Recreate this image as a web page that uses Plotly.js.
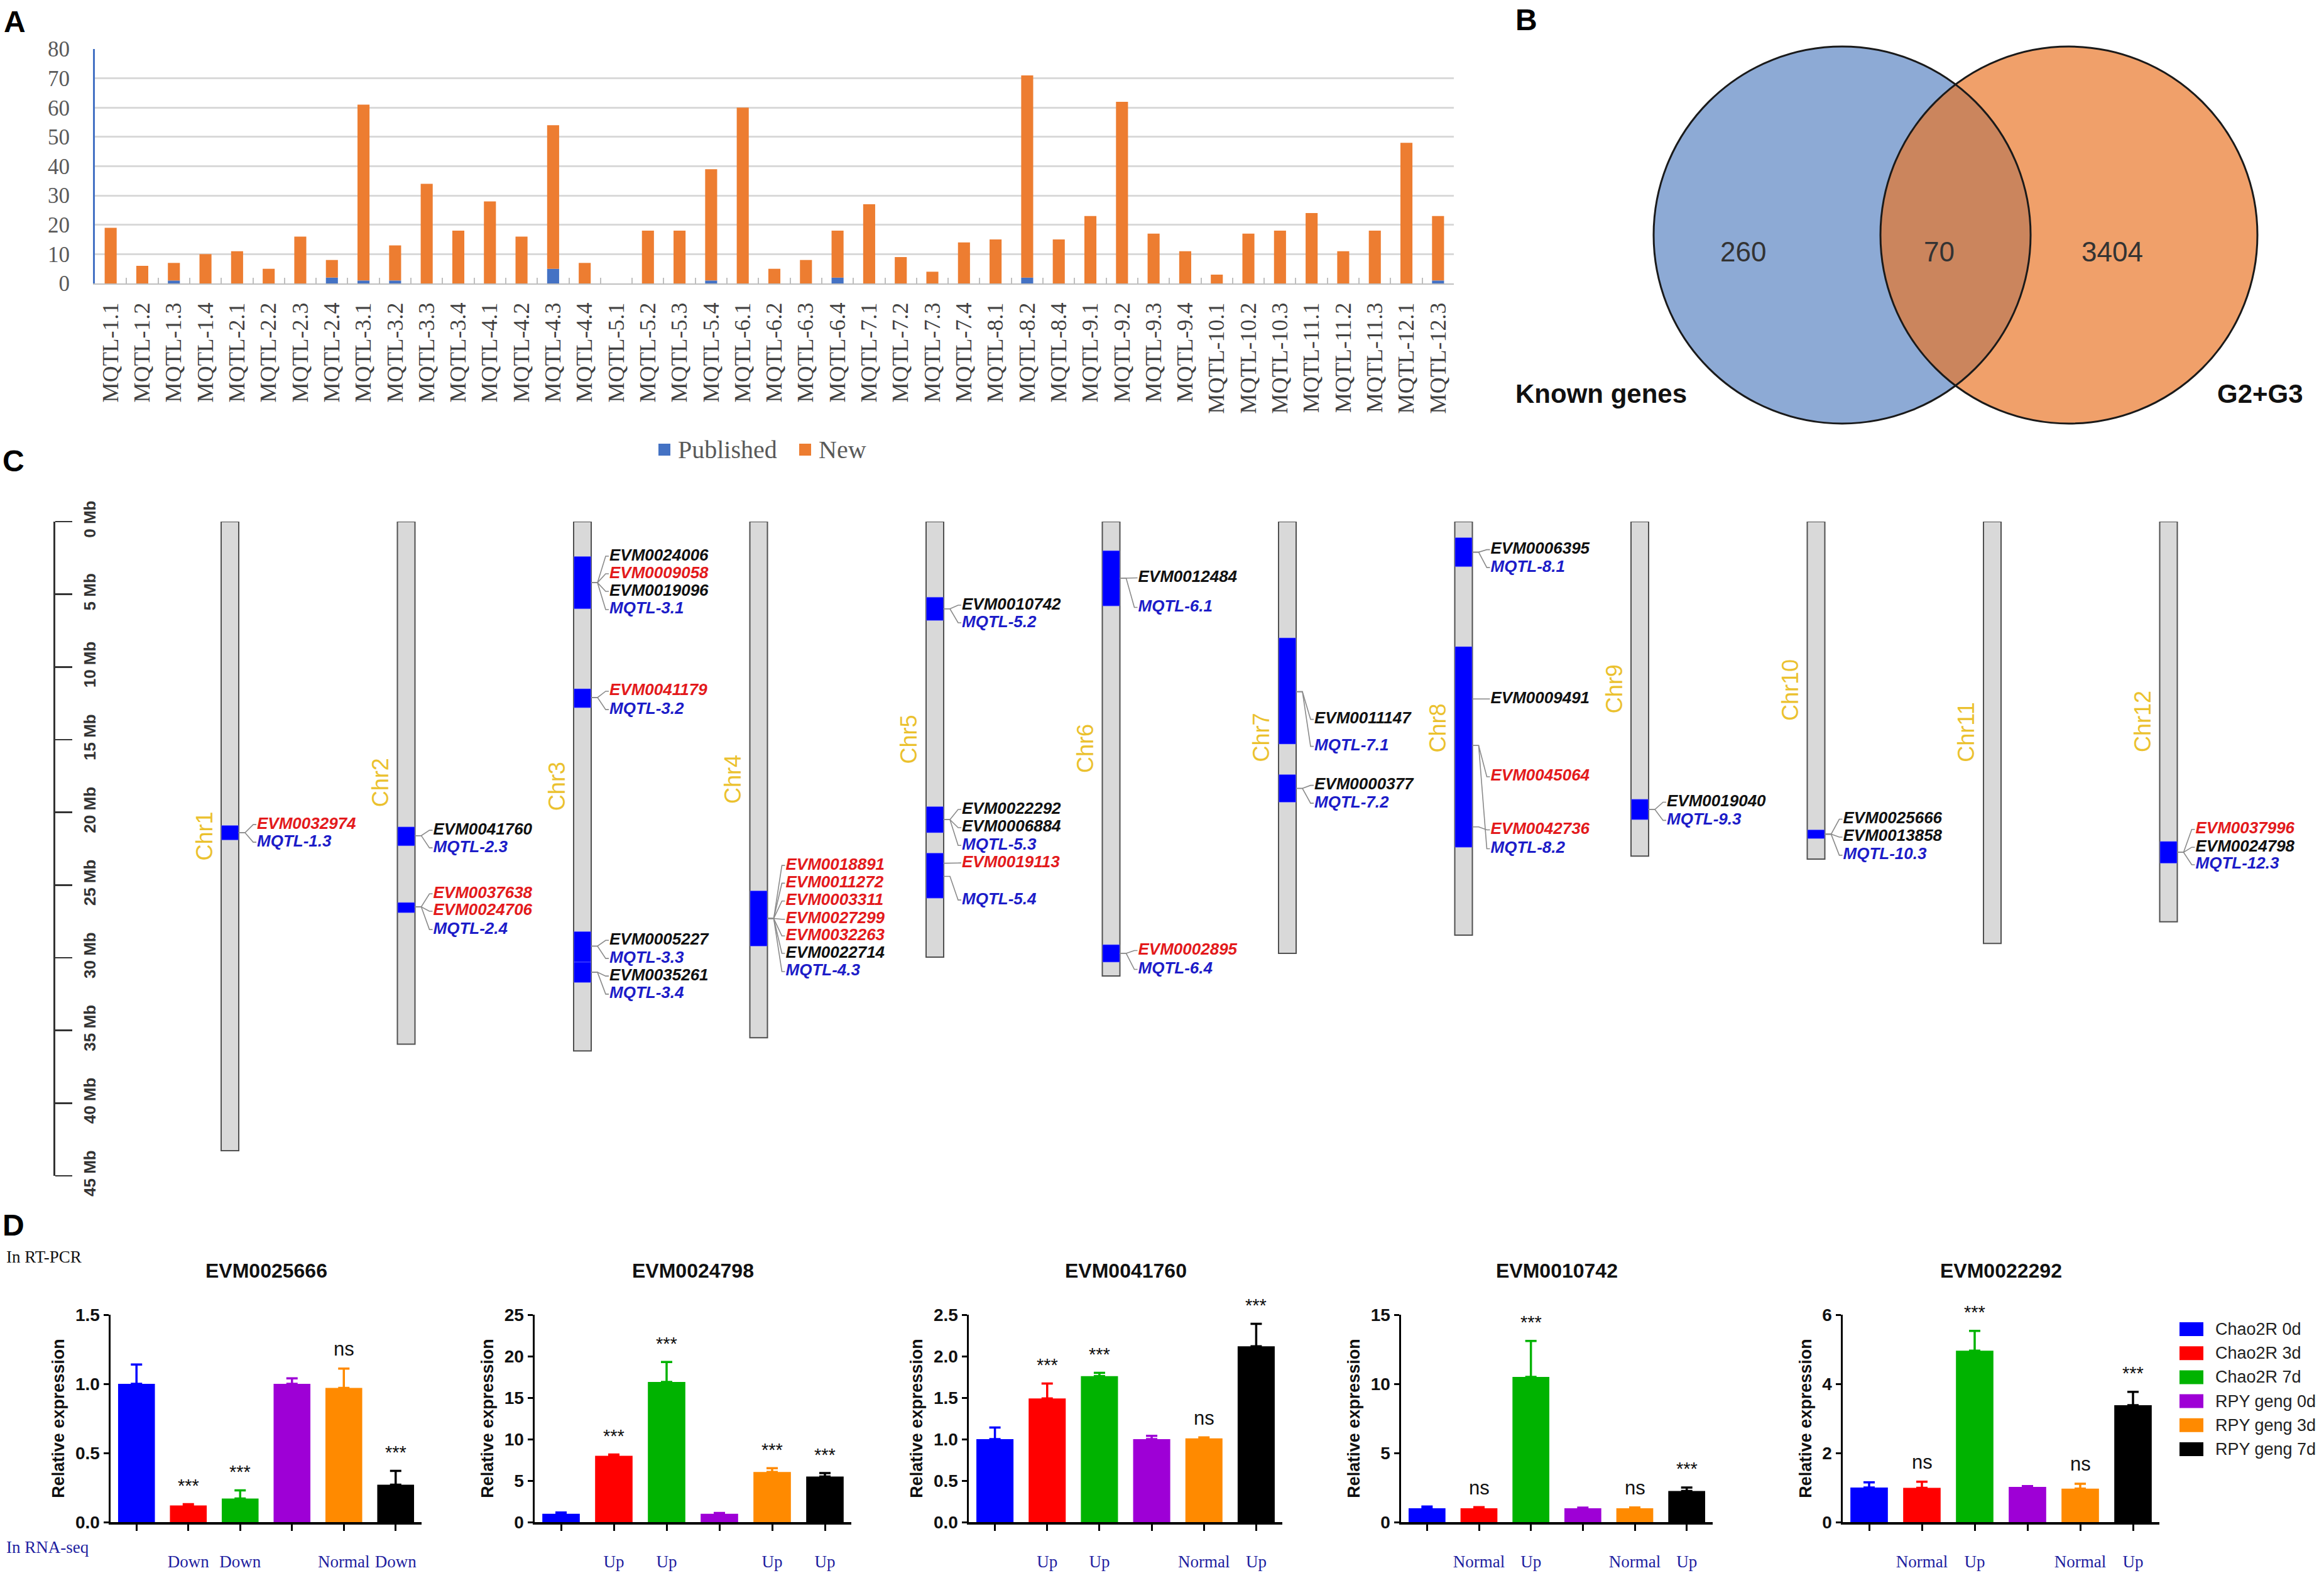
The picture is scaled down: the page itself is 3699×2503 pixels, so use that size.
<!DOCTYPE html>
<html><head><meta charset="utf-8">
<script src="https://cdn.plot.ly/plotly-3.0.1.min.js"></script>
<style>html,body{margin:0;padding:0;background:#fff}#chart{width:3699px;height:2503px}</style>
</head><body><div id="chart"></div>
<script>
// ---------------- Panel A data ----------------
const mqtlCategories = ['MQTL-1.1','MQTL-1.2','MQTL-1.3','MQTL-1.4','MQTL-2.1','MQTL-2.2','MQTL-2.3','MQTL-2.4','MQTL-3.1','MQTL-3.2','MQTL-3.3','MQTL-3.4','MQTL-4.1','MQTL-4.2','MQTL-4.3','MQTL-4.4','MQTL-5.1','MQTL-5.2','MQTL-5.3','MQTL-5.4','MQTL-6.1','MQTL-6.2','MQTL-6.3','MQTL-6.4','MQTL-7.1','MQTL-7.2','MQTL-7.3','MQTL-7.4','MQTL-8.1','MQTL-8.2','MQTL-8.4','MQTL-9.1','MQTL-9.2','MQTL-9.3','MQTL-9.4','MQTL-10.1','MQTL-10.2','MQTL-10.3','MQTL-11.1','MQTL-11.2','MQTL-11.3','MQTL-12.1','MQTL-12.3'];
const publishedGenes = [0,0,1,0,0,0,0,2,1,1,0,0,0,0,5,0,0,0,0,1,0,0,0,2,0,0,0,0,0,2,0,0,0,0,0,0,0,0,0,0,0,0,1];
const newGenes       = [19,6,6,10,11,5,16,6,60,12,34,18,28,16,49,7,0,18,18,38,60,5,8,16,27,9,4,14,15,69,15,23,62,17,11,3,17,18,24,11,18,48,22];
const panelASeries = ['Published','New'];
const panelAYTicks = [0,10,20,30,40,50,60,70,80];

// ---------------- Panel B data ----------------
const vennSetNames = ['Known genes','G2+G3'];
const vennOnlyCounts = [260, 3404];
const vennSharedCount = 70;

// ---------------- Panel C data ----------------
const chrNames = ['Chr1','Chr2','Chr3','Chr4','Chr5','Chr6','Chr7','Chr8','Chr9','Chr10','Chr11','Chr12'];
const chrLengthsMb = [43.27,35.94,36.41,35.50,29.96,31.25,29.70,28.44,23.01,23.21,29.02,27.53];
const qtlChr     = [1,2,2,3,3,3,3,4,5,5,5,6,6,7,7,8,8,9,10,12];
const qtlStartMb = [20.9,21.0,26.2,2.4,11.5,28.2,30.3,25.4,5.2,19.6,22.8,2.0,29.1,8.0,17.4,1.1,8.6,19.1,21.2,22.0];
const qtlEndMb   = [21.9,22.3,26.9,6.0,12.8,30.3,31.7,29.2,6.8,21.4,25.9,5.8,30.3,15.3,19.3,3.1,22.4,20.5,21.8,23.5];
const geneLabelText = ['EVM0032974','MQTL-1.3','EVM0041760','MQTL-2.3','EVM0037638','EVM0024706','MQTL-2.4',
  'EVM0024006','EVM0009058','EVM0019096','MQTL-3.1','EVM0041179','MQTL-3.2','EVM0005227','MQTL-3.3','EVM0035261','MQTL-3.4',
  'EVM0018891','EVM0011272','EVM0003311','EVM0027299','EVM0032263','EVM0022714','MQTL-4.3',
  'EVM0010742','MQTL-5.2','EVM0022292','EVM0006884','MQTL-5.3','EVM0019113','MQTL-5.4',
  'EVM0012484','MQTL-6.1','EVM0002895','MQTL-6.4','EVM0011147','MQTL-7.1','EVM0000377','MQTL-7.2',
  'EVM0006395','MQTL-8.1','EVM0009491','EVM0045064','EVM0042736','MQTL-8.2',
  'EVM0019040','MQTL-9.3','EVM0025666','EVM0013858','MQTL-10.3','EVM0037996','EVM0024798','MQTL-12.3'];
const geneLabelChr = [1,1,2,2,2,2,2, 3,3,3,3,3,3,3,3,3,3, 4,4,4,4,4,4,4, 5,5,5,5,5,5,5, 6,6,6,6,7,7,7,7, 8,8,8,8,8,8, 9,9,10,10,10,12,12,12];
const geneLabelKind = ['red','blue','black','blue','red','red','blue',
  'black','red','black','blue','red','blue','black','blue','black','blue',
  'red','red','red','red','red','black','blue',
  'black','blue','black','black','blue','red','blue',
  'black','blue','red','blue','black','blue','black','blue',
  'black','blue','black','red','red','blue',
  'black','blue','black','black','blue','red','black','blue'];
const geneLabelMb = [20.84,22.05,21.23,22.44,25.6,26.8,28.06,
  2.38,3.59,4.8,6.05,11.67,12.93,28.8,30.05,31.26,32.5,
  23.65,24.87,26.1,27.35,28.5,29.7,30.95,
  5.75,6.96,19.8,21.05,22.27,23.48,26.03,
  3.87,5.9,29.5,30.8,13.6,15.46,18.14,19.37,
  1.93,3.16,12.2,17.55,21.2,22.5,
  19.3,20.55,20.47,21.7,22.95,21.17,22.4,23.6];
const geneAnchorMb = [21.4,21.4,21.6,21.6,26.5,26.5,26.5,
  4.2,4.2,4.2,4.2,12.1,12.1,29.2,29.2,31.0,31.0,
  27.3,27.3,27.3,27.3,27.3,27.3,27.3,
  6.0,6.0,20.5,20.5,20.5,23.5,24.4,
  3.9,3.9,29.7,29.7,11.7,11.7,18.35,18.35,
  2.1,2.1,12.2,15.4,21.0,15.4,
  19.8,19.8,21.5,21.5,21.5,22.75,22.75,22.75];
const scaleTicksMb = [0,5,10,15,20,25,30,35,40,45];

// ---------------- Panel D data ----------------
const conditions = ['Chao2R 0d','Chao2R 3d','Chao2R 7d','RPY geng 0d','RPY geng 3d','RPY geng 7d'];
const conditionColors = ['#0000FF','#FF0000','#00B300','#9E00D6','#FF8A00','#000000'];
const rtGenes = ['EVM0025666','EVM0024798','EVM0041760','EVM0010742','EVM0022292'];
const expr_EVM0025666 = [1.00,0.12,0.17,1.00,0.97,0.27];
const err_EVM0025666  = [0.14,0.01,0.06,0.04,0.14,0.10];
const sig_EVM0025666  = ['','***','***','','ns','***'];
const seq_EVM0025666  = ['','Down','Down','','Normal','Down'];
const expr_EVM0024798 = [1.0,8.0,16.9,1.0,6.05,5.5];
const err_EVM0024798  = [0.15,0.15,2.4,0.1,0.45,0.4];
const sig_EVM0024798  = ['','***','***','','***','***'];
const seq_EVM0024798  = ['','Up','Up','','Up','Up'];
const expr_EVM0041760 = [1.00,1.49,1.76,1.00,1.01,2.12];
const err_EVM0041760  = [0.14,0.18,0.04,0.04,0.01,0.27];
const sig_EVM0041760  = ['','***','***','','ns','***'];
const seq_EVM0041760  = ['','Up','Up','','Normal','Up'];
const expr_EVM0010742 = [1.0,1.0,10.5,1.0,1.0,2.25];
const err_EVM0010742  = [0.12,0.08,2.6,0.05,0.06,0.25];
const sig_EVM0010742  = ['','ns','***','','ns','***'];
const seq_EVM0010742  = ['','Normal','Up','','Normal','Up'];
const expr_EVM0022292 = [1.00,0.99,4.96,1.02,0.97,3.38];
const err_EVM0022292  = [0.15,0.18,0.57,0.02,0.14,0.39];
const sig_EVM0022292  = ['','ns','***','','ns','***'];
const seq_EVM0022292  = ['','Normal','Up','','Normal','Up'];
const rtYMax  = [1.5,25,2.5,15,6];
const rtYStep = [0.5,5,0.5,5,2];

// ---------------- layout helpers ----------------
const W = 3699, H = 2503;
const px = x => x / W, py = y => 1 - y / H;
const SANS = 'Liberation Sans, Arial, sans-serif';
const NARROW = 'Liberation Sans Narrow, Arial Narrow, Liberation Sans, Arial, sans-serif';
const SERIF = 'Liberation Serif, Times New Roman, serif';

const traces = [];
const annotations = [];
const shapes = [];

// ===== Panel A =====
const panelAColors = ['#4472C4','#ED7D31'];
traces.push({type:'bar', name:panelASeries[0], x:mqtlCategories, y:publishedGenes, width:0.38,
  marker:{color:panelAColors[0]}, xaxis:'x', yaxis:'y', showlegend:false});
traces.push({type:'bar', name:panelASeries[1], x:mqtlCategories, y:newGenes, base:publishedGenes, width:0.38,
  marker:{color:panelAColors[1]}, xaxis:'x', yaxis:'y', showlegend:false});
// legend for panel A
const legAX = [1048, 1272];
panelASeries.forEach((s,i) => {
  shapes.push({type:'rect', xref:'paper', yref:'paper', x0:px(legAX[i]), x1:px(legAX[i]+19), y0:py(725), y1:py(706),
    fillcolor:panelAColors[i], line:{width:0}});
  annotations.push({text:s, xref:'paper', yref:'paper', x:px(legAX[i]+29), y:py(715), xanchor:'left', yanchor:'middle',
    showarrow:false, font:{family:SERIF, size:40, color:'#595959'}});
});

// ===== Panel C =====
const chrX0 = 366, chrStep = 280.5;
const chrX = chrNames.map((c,i) => chrX0 + i*chrStep);
traces.push({type:'bar', x:chrX, y:chrLengthsMb, base:chrLengthsMb.map(()=>0), width:28,
  marker:{color:'#D9D9D9', line:{color:'#505050', width:2}}, xaxis:'x2', yaxis:'y2', showlegend:false, hoverinfo:'skip'});
traces.push({type:'bar', x:qtlChr.map(c=>chrX[c-1]), y:qtlEndMb.map((e,i)=>e-qtlStartMb[i]), base:qtlStartMb, width:27,
  marker:{color:'#0000FF', line:{color:'rgba(120,120,255,0.6)', width:1}}, xaxis:'x2', yaxis:'y2', showlegend:false, hoverinfo:'skip'});
const conX = [], conY = [];
geneLabelText.forEach((t,i) => {
  const cx = chrX[geneLabelChr[i]-1];
  conX.push(cx+14, cx+24, cx+37, cx+42, null);
  conY.push(geneAnchorMb[i], geneAnchorMb[i], geneLabelMb[i], geneLabelMb[i], null);
});
traces.push({type:'scatter', mode:'lines', x:conX, y:conY, line:{color:'#8a8a8a', width:1.6},
  xaxis:'x2', yaxis:'y2', showlegend:false, hoverinfo:'skip'});
const kindColor = {red:'#E31A1C', black:'#111111', blue:'#1C1CC8'};
traces.push({type:'scatter', mode:'text', x:geneLabelChr.map(c=>chrX[c-1]+43), y:geneLabelMb, text:geneLabelText,
  textposition:'middle right', cliponaxis:false,
  textfont:{family:SANS, size:26, color:geneLabelKind.map(k=>kindColor[k]), weight:'bold', style:'italic'},
  xaxis:'x2', yaxis:'y2', showlegend:false, hoverinfo:'skip'});
chrNames.forEach((c,i) => {
  annotations.push({text:c, xref:'x2', yref:'y2', x:chrX[i]-41, y:chrLengthsMb[i]/2, textangle:-90,
    showarrow:false, font:{family:SANS, size:36, color:'#EBC12E'}});
});

// ===== Panel D =====
const rtDomains = [[176,671],[851,1355],[1542,2041],[2230,2726],[2933,3437]];
const rtData = [
  [expr_EVM0025666, err_EVM0025666, sig_EVM0025666, seq_EVM0025666],
  [expr_EVM0024798, err_EVM0024798, sig_EVM0024798, seq_EVM0024798],
  [expr_EVM0041760, err_EVM0041760, sig_EVM0041760, seq_EVM0041760],
  [expr_EVM0010742, err_EVM0010742, sig_EVM0010742, seq_EVM0010742],
  [expr_EVM0022292, err_EVM0022292, sig_EVM0022292, seq_EVM0022292]];
const layoutAxes = {};
rtGenes.forEach((g,k) => {
  const n = k + 3;
  const [vals, errs, sigs, seqs] = rtData[k];
  conditions.forEach((c,ci) => {
    traces.push({type:'bar', name:c, x:[c], y:[vals[ci]], width:0.71,
      marker:{color:conditionColors[ci]},
      error_y:{type:'data', symmetric:false, array:[errs[ci]], arrayminus:[0], color:conditionColors[ci], thickness:3.5, width:9},
      xaxis:'x'+n, yaxis:'y'+n, showlegend:false});
    if (sigs[ci]) {
      annotations.push({text:sigs[ci], xref:'x'+n, yref:'y'+n, x:c, y:vals[ci]+errs[ci]+0.035*rtYMax[k],
        yanchor:'bottom', showarrow:false, font:{family:NARROW, size:sigs[ci]==='ns'?31:29, color:'#111'}});
    }
  });
  layoutAxes['xaxis'+n] = {domain:[px(rtDomains[k][0]), px(rtDomains[k][1])], anchor:'y'+n, type:'category',
    categoryorder:'array', categoryarray:conditions, range:[-0.5,5.5], showline:true, linecolor:'#000', linewidth:3.5,
    ticks:'outside', ticklen:10, tickwidth:3, tickcolor:'#000', tickvals:conditions, ticktext:seqs,
    tickfont:{family:SERIF, size:27, color:'#1E1EA0'}, ticklabelstandoff:26, showgrid:false, zeroline:false, fixedrange:true};
  layoutAxes['yaxis'+n] = {domain:[py(2422), py(2092)], anchor:'x'+n, range:[0, rtYMax[k]], dtick:rtYStep[k],
    tickformat: rtYStep[k] < 1 ? '.1f' : 'd',
    showline:true, linecolor:'#000', linewidth:3.5, ticks:'outside', ticklen:8, tickwidth:3, tickcolor:'#000',
    tickfont:{family:NARROW, size:28, color:'#111', weight:'bold'}, showgrid:false, zeroline:false,
    title:{text:'Relative expression', font:{family:SANS, size:27, color:'#111', weight:'bold'}, standoff:10}};
  annotations.push({text:g, xref:'x'+n+' domain', x:0.5, yref:'paper', y:py(2042), showarrow:false,
    font:{family:SANS, size:32, color:'#111', weight:'bold'}});
});
// Panel D legend (drawn from condition arrays)
conditions.forEach((c,i) => {
  const cy = 2115 + i*38.2;
  shapes.push({type:'rect', xref:'paper', yref:'paper', x0:px(3469), x1:px(3507), y0:py(cy+11), y1:py(cy-11),
    fillcolor:conditionColors[i], line:{width:0}});
  annotations.push({text:c, xref:'paper', yref:'paper', x:px(3524), y:py(cy), xanchor:'left', yanchor:'middle',
    showarrow:false, font:{family:SANS, size:27, color:'#222'}});
});
annotations.push({text:'In RT-PCR', xref:'paper', yref:'paper', x:px(8), y:py(2017), xanchor:'left', showarrow:false,
  font:{family:SERIF, size:27, color:'#111'}});
annotations.push({text:'In RNA-seq', xref:'paper', yref:'paper', x:px(8), y:py(2479), xanchor:'left', showarrow:false,
  font:{family:SERIF, size:27, color:'#1E1EA0'}});

// ===== Panel B (Venn) =====
const vennCY = 374, vennR = 300, vennCX = [2932, 3293];
shapes.push({type:'circle', xref:'paper', yref:'paper', x0:px(vennCX[0]-vennR), x1:px(vennCX[0]+vennR),
  y0:py(vennCY+vennR), y1:py(vennCY-vennR), fillcolor:'#8DAAD5', line:{width:0}, layer:'above'});
shapes.push({type:'circle', xref:'paper', yref:'paper', x0:px(vennCX[1]-vennR), x1:px(vennCX[1]+vennR),
  y0:py(vennCY+vennR), y1:py(vennCY-vennR), fillcolor:'rgba(233,115,36,0.68)', line:{width:0}, layer:'above'});
vennCX.forEach(cx => shapes.push({type:'circle', xref:'paper', yref:'paper', x0:px(cx-vennR), x1:px(cx+vennR),
  y0:py(vennCY+vennR), y1:py(vennCY-vennR), line:{color:'#1a1a1a', width:3}, layer:'above'}));
const vennTextX = [(vennCX[0]-vennR + vennCX[1]-vennR)/2, (vennCX[1]-vennR + vennCX[0]+vennR)/2, (vennCX[0]+vennR + vennCX[1]+vennR)/2];
[vennOnlyCounts[0], vennSharedCount, vennOnlyCounts[1]].forEach((v,i) => {
  annotations.push({text:String(v), xref:'paper', yref:'paper', x:px(vennTextX[i]), y:py(vennCY), showarrow:false,
    font:{family:SANS, size:44, color:'#333'}});
});
annotations.push({text:vennSetNames[0], xref:'paper', yref:'paper', x:px(2410), y:py(601), xanchor:'left', showarrow:false,
  font:{family:SANS, size:42, color:'#111', weight:'bold'}});
annotations.push({text:vennSetNames[1], xref:'paper', yref:'paper', x:px(3668), y:py(601), xanchor:'right', showarrow:false,
  font:{family:SANS, size:42, color:'#111', weight:'bold'}});

// ===== Panel letters =====
[['A',4,35],['B',2410,31],['C',2,733],['D',2,1949]].forEach(([t,x,y]) => {
  annotations.push({text:t, xref:'paper', yref:'paper', x:px(x), y:py(y), xanchor:'left', yanchor:'middle', showarrow:false,
    font:{family:SANS, size:48, color:'#000', weight:'bold'}});
});

const layout = Object.assign({
  width:W, height:H, margin:{l:0,r:0,t:0,b:0}, paper_bgcolor:'#fff', plot_bgcolor:'rgba(0,0,0,0)',
  barmode:'overlay', showlegend:false,
  xaxis:{domain:[px(151), px(2314)], anchor:'y', type:'category', tickangle:-90,
    tickfont:{family:SERIF, size:36, color:'#404040'}, ticks:'inside', tickson:'boundaries', ticklen:9, tickwidth:2,
    tickcolor:'#BFBFBF', showline:true, linecolor:'#BFBFBF', linewidth:2, showgrid:false, ticklabelstandoff:14, fixedrange:true},
  yaxis:{domain:[py(451), py(78)], anchor:'x', range:[0,80], tickvals:panelAYTicks, showgrid:true, gridcolor:'#D9D9D9', gridwidth:3,
    showline:true, linecolor:'#4472C4', linewidth:3, zeroline:false, tickfont:{family:SERIF, size:35, color:'#595959'},
    ticklabelstandoff:30, fixedrange:true},
  xaxis2:{domain:[0,1], range:[0,W], anchor:'y2', visible:false, fixedrange:true},
  yaxis2:{domain:[py(1871), py(830)], range:[45,0], anchor:'free', position:px(86), side:'right', tickmode:'array',
    tickvals:scaleTicksMb, ticktext:scaleTicksMb.map(v => v + ' Mb'), tickangle:-90, showline:true, linecolor:'#333', linewidth:2.5,
    ticks:'outside', ticklen:27, tickwidth:2.5, tickcolor:'#333', tickfont:{family:SANS, size:26, color:'#333', weight:'bold'},
    ticklabelstandoff:6, showgrid:false, zeroline:false, fixedrange:true},
  annotations:annotations, shapes:shapes
}, layoutAxes);

Plotly.newPlot('chart', traces, layout, {displayModeBar:false, staticPlot:true});
</script>
</body></html>
